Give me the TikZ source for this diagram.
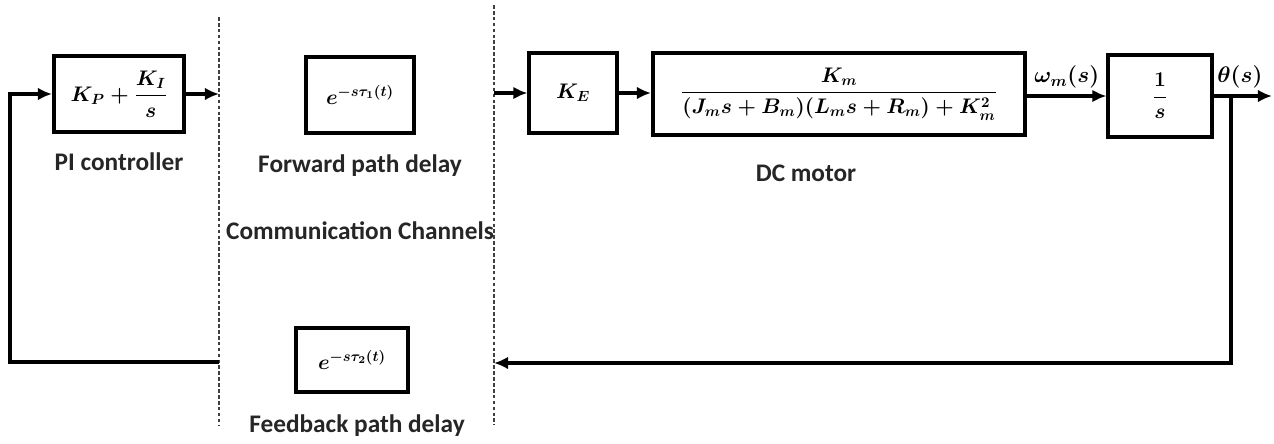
\RequirePackage{fix-cm}
\documentclass[tikz,border=0pt]{standalone}
\usepackage{amsmath}
\usepackage{fontspec}
\setmainfont{Carlito}
\usetikzlibrary{calc, positioning, arrows.meta}

\begin{document}
\begin{tikzpicture}[
  x=0.025cm, y=-0.025cm,
  blk/.style={draw, line width=2.8pt, inner sep=2pt,
              font=\fontsize{15}{18}\selectfont\boldmath},
  blkcap/.style={font=\fontsize{18}{21}\selectfont\bfseries, text=black!85},
  sig/.style={font=\fontsize{16}{19}\selectfont\boldmath, inner sep=1pt},
  link/.style={line width=2.6pt},
  chan/.style={line width=0.9pt, dash pattern=on 2.6pt off 1.6pt, black!75},
  >={Latex[length=10pt, width=9pt]}
]
  \useasboundingbox (0,0) rectangle (1274,443);

  % ── blocks ──
  \node[blk, minimum width=3.25cm, minimum height=1.9cm] (pi) at (119,94)
    {$\displaystyle K_P+\frac{K_I}{s}$};
  \node[blk, minimum width=2.68cm, minimum height=1.88cm] (fwd) at (360,95)
    {$e^{-s\tau_1(t)}$};
  \node[blk, minimum width=2.18cm, minimum height=2.0cm] (ke) at (573,93)
    {$K_E$};
  \node[blk, minimum width=9.3cm, minimum height=2.05cm] (motor) at (839,94)
    {$\displaystyle \frac{K_m}{(J_m s+B_m)(L_m s+R_m)+K_m^2}$};
  \node[blk, minimum width=2.58cm, minimum height=2.05cm] (integ) at (1160,96)
    {$\displaystyle \frac{1}{s}$};
  \node[blk, minimum width=2.82cm, minimum height=1.6cm] (fbk) at (352,360)
    {$e^{-s\tau_2(t)}$};

  % ── captions ──
  \node[blkcap] (picap) at (119,162) {PI controller};
  \node[blkcap] (fwdcap) at (360,166) {Forward path delay};
  \node[blkcap] (chcap) at (360,231) {Communication Channels};
  \node[blkcap] (mcap) at (806,173) {DC motor};
  \node[blkcap] (fbkcap) at (357,426) {Feedback path delay};

  % ── channel borders ──
  \coordinate (lt) at (219,17);
  \coordinate (lb) at (219,425);
  \coordinate (rt) at (494,5);
  \coordinate (rb) at (494,425);
  \draw[chan] (lt) -- (lb);
  \draw[chan] (rt) -- (rb);

  % ── forward path ──
  \draw[link, ->] (pi.east) -- (pi.east -| lt);
  \draw[link, ->] (ke.west -| rt) -- (ke.west);
  \draw[link, ->] (ke.east) -- (ke.east -| motor.west);
  \draw[link, ->] (motor.east |- integ.west) -- (integ.west)
    node[sig, midway, above=3pt] (wm) {$\omega_m(s)$};
  \coordinate (out) at (1272,97);
  \draw[link, ->] (integ.east) -- (integ.east -| out)
    node[sig, pos=0.45, above=3pt] (th) {$\theta(s)$};

  % ── feedback path ──
  \coordinate (tap) at (1231,97);
  \coordinate (fbr) at (1231,363);
  \coordinate (fbl) at (10,362);
  \draw[link, ->] (tap) -- (fbr) -- (fbr -| rb);
  \draw[link, ->] (fbl -| lb) -- (fbl) -- (fbl |- pi.west) -- (pi.west);
\end{tikzpicture}
\end{document}
